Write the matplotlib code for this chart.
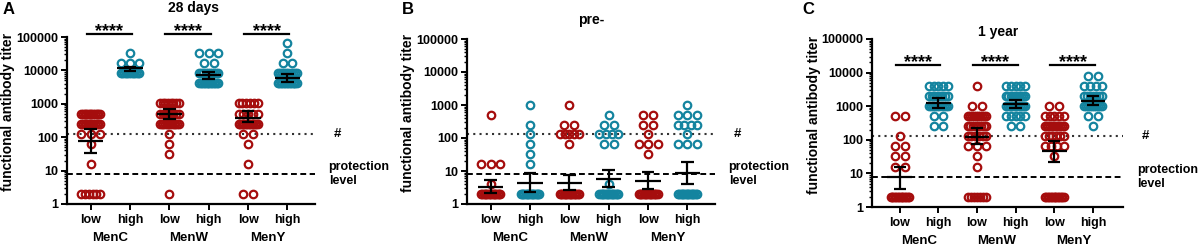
#!/usr/bin/env python3

import numpy as np
import matplotlib
matplotlib.use("Agg")
import matplotlib.pyplot as plt
from matplotlib.ticker import FixedLocator, LogLocator, NullFormatter

plt.rcParams['font.family'] = ['Liberation Sans', 'DejaVu Sans']
plt.rcParams['font.weight'] = 'bold'

RED = '#a50d0d'
TEAL = '#14849f'

vaccines = ['MenC', 'MenW', 'MenY']
doses = ['low', 'high']
panel_letters = ['A', 'B', 'C']
panel_titles = ['28 days', 'pre-', '1 year']

# titer -> number of subjects, order: MenC low, MenC high, MenW low, MenW high, MenY low, MenY high
a_dots = [
    {2: 6, 16: 1, 64: 1, 128: 3, 256: 12, 512: 12},
    {8192: 12, 16384: 3, 32768: 1},
    {2: 1, 32: 1, 64: 1, 128: 1, 256: 12, 512: 8, 1024: 8},
    {4096: 14, 8192: 10, 16384: 2, 32768: 3},
    {2: 2, 16: 1, 64: 1, 128: 2, 256: 14, 512: 5, 1024: 6},
    {4096: 14, 8192: 10, 16384: 2, 32768: 1, 65536: 1},
]
a_mean = [77, 11700, 490, 7100, 370, 5900]
a_lo = [34, 9700, 350, 5500, 290, 4500]
a_hi = [177, 13000, 700, 9100, 610, 7800]

b_dots = [
    {2: 16, 4: 1, 16: 3, 512: 1},
    {2: 16, 16: 1, 32: 1, 64: 1, 128: 1, 256: 1, 1024: 1},
    {2: 16, 64: 1, 128: 5, 256: 2, 1024: 1},
    {2: 16, 4: 1, 64: 2, 128: 4, 256: 2, 512: 1},
    {2: 16, 32: 1, 64: 3, 128: 1, 256: 2, 512: 2},
    {2: 16, 64: 3, 128: 1, 256: 4, 512: 3, 1024: 1},
]
b_mean = [3.2, 4.4, 4.3, 5.9, 5.0, 8.5]
b_lo = [2.1, 2.3, 2.6, 3.2, 2.8, 4.1]
b_hi = [5.3, 8.8, 7.4, 11, 9.2, 18.5]

c_dots = [
    {2: 14, 16: 2, 32: 2, 64: 2, 128: 1, 512: 2},
    {256: 2, 512: 2, 1024: 10, 2048: 8, 4096: 5},
    {2: 7, 16: 1, 32: 1, 64: 3, 128: 6, 256: 8, 512: 10, 1024: 2, 4096: 1},
    {256: 2, 512: 5, 1024: 12, 2048: 10, 4096: 5},
    {2: 14, 32: 1, 64: 4, 128: 6, 256: 12, 512: 5, 1024: 2},
    {256: 1, 512: 2, 1024: 10, 2048: 7, 4096: 4, 8192: 2},
]
c_mean = [7.6, 1240, 120, 1200, 46, 1420]
c_lo = [3.4, 890, 75, 880, 22, 1090]
c_hi = [15.5, 1750, 220, 1550, 92, 2000]

threshold = 128      # dotted line, '#'
protection = 8       # dashed line
sig_labels = [['****'] * 3, [], ['****'] * 3]
sig_height = [123000, None, 17000]

panels = [
    (a_dots, a_mean, a_lo, a_hi),
    (b_dots, b_mean, b_lo, b_hi),
    (c_dots, c_mean, c_lo, c_hi),
]

STEP = 0.25
MAXSPAN = 0.48


def row_offsets(n):
    if n == 1:
        return np.zeros(1)
    span = min((n - 1) * STEP, MAXSPAN)
    return np.linspace(-span / 2, span / 2, n)


fig = plt.figure(figsize=(11.99, 2.5), dpi=100)
axes_rects = [
    [67 / 1199, 1 - 204 / 250, 248 / 1199, 167 / 250],
    [467 / 1199, 1 - 204 / 250, 248 / 1199, 165 / 250],
    [872 / 1199, 1 - 207 / 250, 251 / 1199, 168 / 250],
]
xlims = [(-0.6, 5.7), (-0.6, 5.7), (-0.72, 5.78)]
title_pos = [(193, 8), (591, 20), (998, 32)]
letter_pos = [(9, 9), (408, 9), (808, 9)]
ylabel_x = [-0.21, -0.21, -0.205]

for p, (dots, means, los, his) in enumerate(panels):
    ax = fig.add_axes(axes_rects[p])
    positions = np.arange(6)
    for i, counts in enumerate(dots):
        color = RED if i % 2 == 0 else TEAL
        xs, ys = [], []
        for val, n in counts.items():
            xs.extend(positions[i] + row_offsets(n))
            ys.extend([val] * n)
        ax.plot(xs, ys, 'o', mfc='none', mec=color, ms=5.4, mew=1.6,
                clip_on=False, zorder=2)
        x = positions[i]
        ax.hlines(means[i], x - 0.32, x + 0.32, color='black', lw=1.6, zorder=4)
        ax.vlines(x, los[i], his[i], color='black', lw=1.6, zorder=4)
        ax.hlines([los[i], his[i]], x - 0.16, x + 0.16, color='black', lw=1.6, zorder=4)

    ax.axhline(threshold, color='#333333', lw=1.5, ls=(0, (1, 2)), zorder=1, clip_on=False)
    ax.axhline(protection, color='black', lw=1.4, ls=(0, (3, 1.8)), zorder=1, clip_on=False)
    ax.text(1.075, threshold, '#', transform=ax.get_yaxis_transform(),
            fontsize=9.5, fontweight='bold', va='center', ha='left')
    ax.text(1.055, protection, 'protection\nlevel', transform=ax.get_yaxis_transform(),
            fontsize=9, fontweight='bold', va='center', ha='left', linespacing=1.25)

    for k, lab in enumerate(sig_labels[p]):
        x0 = positions[2 * k] - 0.1
        x1 = positions[2 * k + 1] + 0.05
        ax.plot([x0, x1], [sig_height[p]] * 2, color='black', lw=1.6, clip_on=False)
        ax.annotate(lab, ((x0 + x1) / 2, sig_height[p]), xytext=(0, -1.5),
                    textcoords='offset points', ha='center', va='baseline',
                    fontsize=13, fontweight='bold', annotation_clip=False)

    ax.set_yscale('log')
    ax.set_ylim(1, 100000)
    ax.set_xlim(*xlims[p])
    ax.yaxis.set_major_locator(FixedLocator([1, 10, 100, 1000, 10000, 100000]))
    ax.set_yticklabels(['1', '10', '100', '1000', '10000', '100000'])
    ax.yaxis.set_minor_locator(LogLocator(base=10, subs=np.arange(2, 10)))
    ax.yaxis.set_minor_formatter(NullFormatter())
    ax.set_xticks(positions)
    ax.set_xticklabels(doses * 3)
    for v, name in enumerate(vaccines):
        ax.text(2 * v + 0.5, -0.205, name, transform=ax.get_xaxis_transform(),
                ha='center', va='center', fontsize=9.5, fontweight='bold')

    for side in ['top', 'right']:
        ax.spines[side].set_visible(False)
    for side in ['left', 'bottom']:
        ax.spines[side].set_linewidth(1.6)
    ax.tick_params(axis='both', which='major', length=4, width=1.4, labelsize=9, pad=2)
    ax.tick_params(axis='y', which='minor', length=2.2, width=1)
    ax.tick_params(axis='x', pad=3)
    for lab in ax.get_xticklabels() + ax.get_yticklabels():
        lab.set_fontweight('bold')

    ax.set_ylabel('functional antibody titer', fontsize=10, fontweight='bold')
    ax.yaxis.set_label_coords(ylabel_x[p], 0.55)

    fig.text(title_pos[p][0] / 1199, 1 - title_pos[p][1] / 250, panel_titles[p],
             ha='center', va='center', fontsize=10, fontweight='bold')
    fig.text(letter_pos[p][0] / 1199, 1 - letter_pos[p][1] / 250, panel_letters[p],
             ha='center', va='center', fontsize=12, fontweight='bold')

fig.savefig('out.png', dpi=100)
